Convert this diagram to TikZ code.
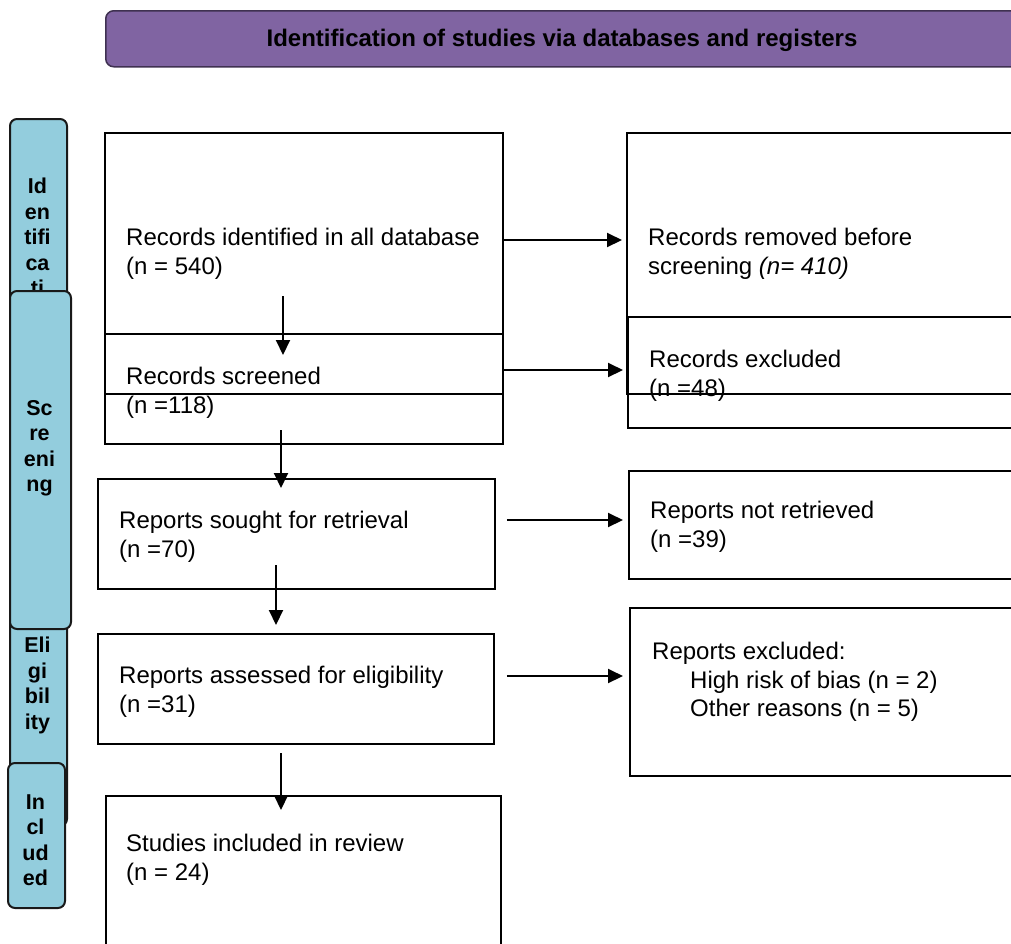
\documentclass[tikz,border=0pt]{standalone}
\usepackage{fontspec}
\setmainfont{Liberation Sans}
\usetikzlibrary{arrows.meta}
\definecolor{bannerfill}{HTML}{8064A2}
\definecolor{bannerdraw}{HTML}{3F3151}
\definecolor{sidefill}{HTML}{93CDDD}
\begin{document}
\begin{tikzpicture}[x=1pt,y=-1pt,
  box/.style={rectangle,draw=black,line width=1.8pt,inner sep=0pt,anchor=north west},
  side/.style={rectangle,draw=black!90,fill=sidefill,line width=2pt,rounded corners=7pt,inner sep=0pt,anchor=north west},
  sidelabel/.style={font=\fontsize{21.5}{25.5}\selectfont\bfseries,align=center,inner sep=0pt,anchor=north},
  txt/.style={font=\fontsize{24}{28.5}\selectfont,align=left,inner sep=0pt,anchor=north west},
  banner/.style={rectangle,draw=bannerdraw,fill=bannerfill,line width=1.5pt,rounded corners=8pt,inner sep=0pt,anchor=north west},
  bannertext/.style={font=\fontsize{24}{28}\selectfont\bfseries,inner sep=0pt},
  arr/.style={line width=2pt,-{Triangle[length=15pt,width=14pt]}}
]
\useasboundingbox (0,0) rectangle (1011,943);
\clip (0,0) rectangle (1011,943);
\fill[white] (0,0) rectangle (1011,943);

% banner
\node[banner,minimum width=914pt,minimum height=56pt] (ban) at (105,10) {};
\node[bannertext] (bant) at (562,40) {Identification of studies via databases and registers};

% side phase boxes
\node[side,minimum width=57pt,minimum height=200pt] (sid) at (9,118) {};
\node[sidelabel] (lid) at (37.5,178) {Id\\en\\tifi\\ca\\ti};
\node[side,minimum width=57pt,minimum height=225pt] (sel) at (9,600) {};
\node[sidelabel] (lel) at (37.5,637) {Eli\\gi\\bil\\ity};
\node[side,minimum width=61pt,minimum height=338pt] (ssc) at (9,290) {};
\node[sidelabel] (lsc) at (39.5,400) {Sc\\re\\eni\\ng};
\node[side,minimum width=57pt,minimum height=145pt] (sin) at (7,762) {};
\node[sidelabel] (lin) at (35.5,794) {In\\cl\\ud\\ed};

% left column boxes
\node[box,minimum width=398pt,minimum height=261pt] (b1) at (104,132) {};
\node[box,minimum width=398pt,minimum height=110pt] (b2) at (104,333) {};
\node[box,minimum width=397pt,minimum height=110pt] (b3) at (97,478) {};
\node[box,minimum width=396pt,minimum height=110pt] (b4) at (97,633) {};
\node[box,minimum width=395pt,minimum height=170pt] (b5) at (105,795) {};

% right column boxes
\node[box,minimum width=404pt,minimum height=261pt] (r1) at (626,132) {};
\node[box,minimum width=403pt,minimum height=111pt] (r2) at (627,316) {};
\node[box,minimum width=402pt,minimum height=108pt] (r3) at (628,470) {};
\node[box,minimum width=401pt,minimum height=168pt] (r4) at (629,607) {};

% texts
\node[txt] (t1) at (126,228) {Records identified in all database\\(n = 540)};
\node[txt] (t2) at (126,367) {Records screened\\(n =118)};
\node[txt] (t3) at (119,511) {Reports sought for retrieval\\(n =70)};
\node[txt] (t4) at (119,666) {Reports assessed for eligibility\\(n =31)};
\node[txt] (t5) at (126,834) {Studies included in review\\(n = 24)};
\node[txt] (u1) at (648,228) {Records removed before\\screening \textit{(n= 410)}};
\node[txt] (u2) at (649,350) {Records excluded\\(n =48)};
\node[txt] (u3) at (650,501) {Reports not retrieved\\(n =39)};
\node[txt] (u4) at (652,642) {Reports excluded:\\\hspace*{38pt}High risk of bias (n = 2)\\\hspace*{38pt}Other reasons (n = 5)};

% horizontal connectors
\coordinate (h1) at (0,240);
\coordinate (h2) at (0,370);
\coordinate (h3) at (0,520);
\coordinate (h4) at (0,676);
\draw[arr] (b1.east |- h1) -- ([xshift=-4pt]r1.west |- h1);
\draw[arr] (b2.east |- h2) -- ([xshift=-4pt]r2.west |- h2);
\draw[arr] ([xshift=11pt]b3.east |- h3) -- ([xshift=-5pt]r3.west |- h3);
\draw[arr] ([xshift=12pt]b4.east |- h4) -- ([xshift=-6pt]r4.west |- h4);

% vertical connectors
\coordinate (v1s) at (283,296);
\coordinate (v1e) at (283,355);
\coordinate (v2s) at (281,430);
\coordinate (v2e) at (281,488);
\coordinate (v3s) at (276,565);
\coordinate (v3e) at (276,625);
\coordinate (v4s) at (281,753);
\coordinate (v4e) at (281,810);
\draw[arr] (v1s) -- (v1e);
\draw[arr] (v2s) -- (v2e);
\draw[arr] (v3s) -- (v3e);
\draw[arr] (v4s) -- (v4e);
\end{tikzpicture}
\end{document}
